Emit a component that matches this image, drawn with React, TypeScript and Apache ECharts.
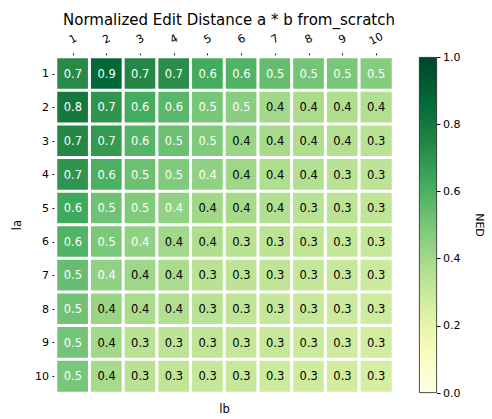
import React, { useEffect, useRef } from "react";
import * as echarts from "echarts";

const colLabels = ["1", "2", "3", "4", "5", "6", "7", "8", "9", "10"];
const rowLabels = ["1", "2", "3", "4", "5", "6", "7", "8", "9", "10"];

const row1 = [0.73, 0.88, 0.74, 0.72, 0.62, 0.59, 0.54, 0.51, 0.50, 0.47];
const row2 = [0.80, 0.70, 0.62, 0.57, 0.50, 0.46, 0.40, 0.38, 0.37, 0.36];
const row3 = [0.74, 0.68, 0.58, 0.53, 0.48, 0.42, 0.39, 0.37, 0.36, 0.34];
const row4 = [0.70, 0.60, 0.53, 0.48, 0.44, 0.41, 0.37, 0.36, 0.34, 0.33];
const row5 = [0.63, 0.52, 0.48, 0.44, 0.40, 0.39, 0.36, 0.34, 0.33, 0.32];
const row6 = [0.59, 0.49, 0.44, 0.40, 0.37, 0.34, 0.33, 0.32, 0.31, 0.30];
const row7 = [0.54, 0.44, 0.41, 0.38, 0.34, 0.33, 0.32, 0.31, 0.30, 0.29];
const row8 = [0.52, 0.42, 0.38, 0.36, 0.34, 0.32, 0.31, 0.30, 0.29, 0.28];
const row9 = [0.51, 0.40, 0.34, 0.33, 0.32, 0.31, 0.30, 0.29, 0.28, 0.27];
const row10 = [0.50, 0.39, 0.34, 0.32, 0.31, 0.30, 0.29, 0.28, 0.27, 0.26];
const rows = [row1, row2, row3, row4, row5, row6, row7, row8, row9, row10];

const YLGN = ["#ffffe5", "#f7fcb9", "#d9f0a3", "#addd8e", "#78c679", "#41ab5d", "#238443", "#006837", "#004529"];

const FONT = "DejaVu Sans";

export default function App() {
  const ref = useRef<HTMLDivElement>(null);
  useEffect(() => {
    if (!ref.current) return;
    const chart = echarts.init(ref.current, undefined, { renderer: "svg" });
    const data: any[] = [];
    rows.forEach((r, i) =>
      r.forEach((v, j) => {
        data.push({
          value: [j, i, v],
          label: { color: v >= 0.43 ? "#ffffff" : "#000000" },
        });
      })
    );
    const n = YLGN.length - 1;
    const gradStops = YLGN.map((c, i) => ({ offset: i / n, color: YLGN[n - i] }));
    chart.setOption({
      animation: false,
      backgroundColor: "#ffffff",
      textStyle: { fontFamily: FONT },
      title: {
        text: "Normalized Edit Distance a * b from_scratch",
        left: 224,
        top: 7,
        textAlign: "center",
        textStyle: { fontFamily: FONT, fontSize: 15, fontWeight: "normal", color: "#000" },
      },
      grid: [
        { left: 56, right: 99, top: 57, bottom: 25 },
        { left: 419, right: 55, top: 57, bottom: 26 },
      ],
      xAxis: [
        {
          type: "category",
          data: colLabels,
          position: "top",
          gridIndex: 0,
          axisLine: { show: false },
          axisTick: { show: true, alignWithLabel: true, length: 3.5, lineStyle: { color: "#000" } },
          axisLabel: {
            rotate: -28,
            fontSize: 11,
            color: "#000",
            margin: 18,
            align: "center",
            verticalAlign: "middle",
            fontFamily: FONT,
          },
          splitArea: { show: false },
          name: "lb",
          nameLocation: "middle",
          nameGap: -358,
          nameTextStyle: { fontSize: 11.5, color: "#000", fontFamily: FONT },
        },
        {
          type: "category",
          data: ["c"],
          gridIndex: 1,
          show: false,
        },
      ],
      yAxis: [
        {
          type: "category",
          data: rowLabels,
          inverse: true,
          gridIndex: 0,
          axisLine: { show: false },
          axisTick: { show: true, alignWithLabel: true, length: 3.5, lineStyle: { color: "#000" } },
          axisLabel: { fontSize: 11, color: "#000", margin: 7, fontFamily: FONT },
          name: "la",
          nameLocation: "middle",
          nameGap: 33,
          nameRotate: 90,
          nameTextStyle: { fontSize: 11.5, color: "#000", fontFamily: FONT },
        },
        {
          type: "value",
          gridIndex: 1,
          min: 0,
          max: 1,
          interval: 0.2,
          position: "right",
          axisLine: { show: false },
          splitLine: { show: false },
          axisTick: { show: true, length: 3.5, lineStyle: { color: "#000" } },
          axisLabel: { fontSize: 11, color: "#000", margin: 6, fontFamily: FONT, formatter: (v: number) => v.toFixed(1) },
          name: "NED",
          nameLocation: "middle",
          nameGap: 37,
          nameRotate: -90,
          nameTextStyle: { fontSize: 11, color: "#000", fontFamily: FONT },
        },
      ],
      visualMap: {
        show: false,
        min: 0,
        max: 1,
        seriesIndex: 0,
        dimension: 2,
        inRange: { color: YLGN },
      },
      series: [
        {
          type: "heatmap",
          xAxisIndex: 0,
          yAxisIndex: 0,
          data,
          itemStyle: { borderColor: "#ffffff", borderWidth: 3 },
          label: {
            show: true,
            fontSize: 11.5,
            fontFamily: FONT,
            formatter: (p: any) => p.value[2].toFixed(1),
          },
          emphasis: { disabled: true },
        },
        {
          type: "bar",
          xAxisIndex: 1,
          yAxisIndex: 1,
          data: [1],
          barWidth: "100%",
          itemStyle: {
            color: new echarts.graphic.LinearGradient(0, 0, 0, 1, gradStops),
            borderColor: "#222",
            borderWidth: 0.8,
          },
          silent: true,
        },
      ],
    });
    return () => chart.dispose();
  }, []);
  return <div ref={ref} style={{ width: 492, height: 419, position: "fixed", left: 0, top: 0 }} />;
}
